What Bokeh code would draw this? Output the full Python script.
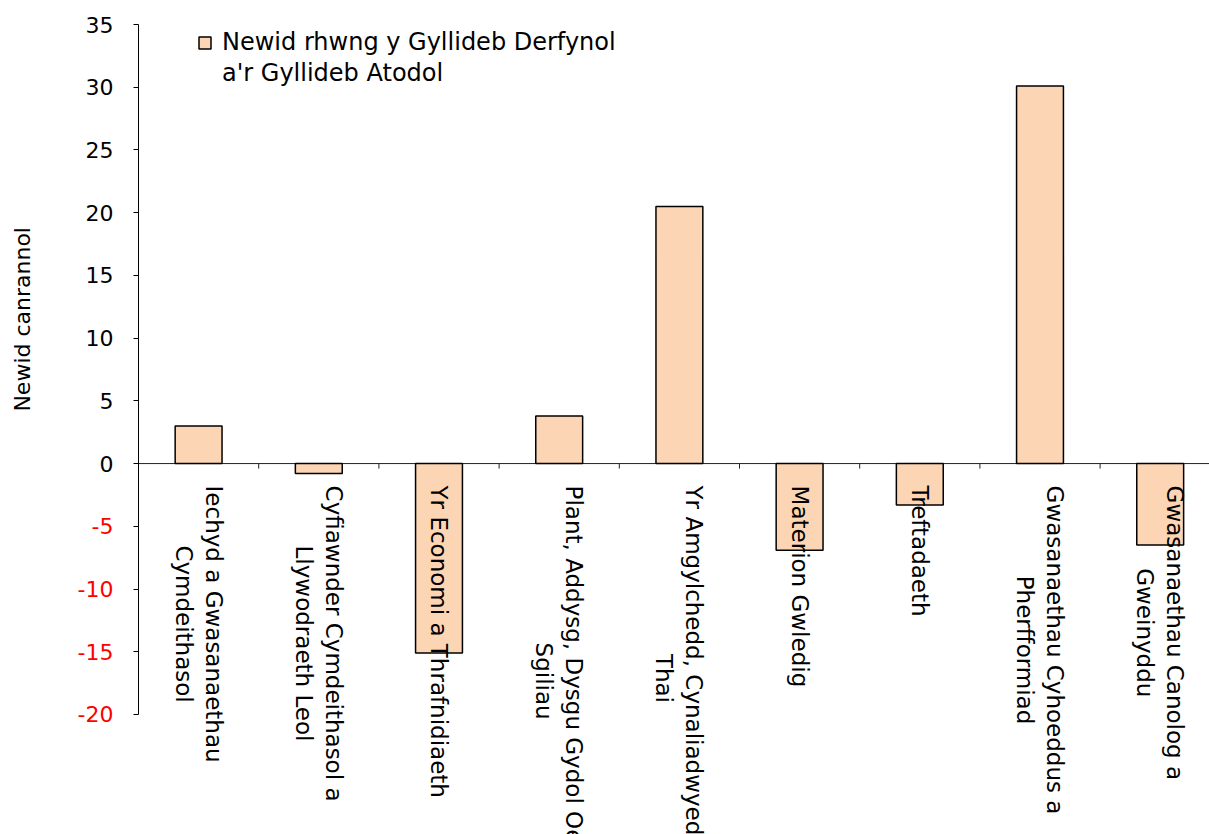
import math
from bokeh.plotting import figure
from bokeh.models import (ColumnDataSource, Range1d, FixedTicker, Legend, LegendItem)
from bokeh.core.properties import value
from bokeh.embed import file_html
from bokeh.resources import INLINE

# ---- data ----
categories = [
    "Iechyd a Gwasanaethau\nCymdeithasol",
    "Cyfiawnder Cymdeithasol a\nLlywodraeth Leol",
    "Yr Economi a Thrafnidiaeth",
    "Plant, Addysg, Dysgu Gydol Oes a\nSgiliau",
    "Yr Amgylchedd, Cynaliadwyedd a\nThai",
    "Materion Gwledig",
    "Treftadaeth",
    "Gwasanaethau Cyhoeddus a\nPherfformiad",
    "Gwasanaethau Canolog a\nGweinyddu",
]
values = [3.0, -0.8, -15.1, 3.8, 20.5, -6.9, -3.3, 30.1, -6.5]
series_name = "Newid rhwng y Gyllideb Derfynol\na'r Gyllideb Atodol"
y_ticks = [-20, -15, -10, -5, 0, 5, 10, 15, 20, 25, 30, 35]
y_label = "Newid canrannol"

FONT = "DejaVu Sans"
BAR_FILL = "#FCD5B4"
TICK_FS = "22px"

n = len(categories)
xs = [i + 0.5 for i in range(n)]
src = ColumnDataSource(dict(x=xs, top=values, label=categories, zero=[0] * n))

# layout: canvas == page (bokeh template has no body margin)
W, H = 1209, 834
AX_X = 138          # pixel position of the y axis
Y_TOP_PX = 24       # pixel of the top tick
PX_PER_CAT = 120.2
PX_PER_UNIT = 12.545
ymax = max(y_ticks)

p = figure(width=W, height=H, output_backend="svg", toolbar_location=None,
           x_range=Range1d(-AX_X / PX_PER_CAT, (W - AX_X) / PX_PER_CAT),
           y_range=Range1d(ymax - (H - Y_TOP_PX) / PX_PER_UNIT, ymax + Y_TOP_PX / PX_PER_UNIT),
           min_border=0, min_border_left=0, min_border_top=0,
           min_border_right=0, min_border_bottom=0)
p.title.visible = False
p.outline_line_color = None
p.grid.visible = False
p.xaxis.visible = False
p.background_fill_color = "white"

# y axis, drawn at x = 0 inside the frame
yax = p.yaxis[0]
yax.fixed_location = 0
yax.ticker = FixedTicker(ticks=y_ticks)
yax.bounds = (min(y_ticks), max(y_ticks))
yax.minor_tick_line_color = None
yax.major_tick_in = 0
yax.major_tick_out = 5
yax.axis_line_color = "black"
yax.major_tick_line_color = "black"
yax.major_label_standoff = 20
yax.major_label_text_font = FONT
yax.major_label_text_font_size = TICK_FS
yax.major_label_text_color = "black"
yax.major_label_overrides = {t: "" for t in y_ticks if t < 0}

# red negative tick labels
neg = [t for t in y_ticks if t < 0]
neg_src = ColumnDataSource(dict(y=neg, x=[0] * len(neg), t=[str(t) for t in neg]))
p.text(x="x", y="y", text="t", source=neg_src, x_offset=-25,
       text_align="right", text_baseline="middle",
       text_font=value(FONT), text_font_size=value(TICK_FS), text_color="#FF0000")

# y axis title
ttl_src = ColumnDataSource(dict(x=[0], y=[11.5], t=[y_label]))
p.text(x="x", y="y", text="t", source=ttl_src, x_offset=-116, angle=math.pi / 2,
       text_align="center", text_baseline="middle",
       text_font=value(FONT), text_font_size=value("22px"), text_color="black")

# zero line and category boundary ticks
p.segment(x0=[0], x1=[n], y0=[0], y1=[0], line_color="#222222", line_width=1)
bounds = list(range(1, n))
p.segment(x0=bounds, x1=bounds, y0=[0] * len(bounds), y1=[-0.4] * len(bounds),
          line_color="#222222", line_width=1)

bars = p.vbar(x="x", top="top", bottom="zero", width=0.39, source=src,
              fill_color=BAR_FILL, line_color="black", line_width=1.5)

# category labels
p.text(x="x", y="zero", text="label", source=src, angle=-math.pi / 2,
       anchor=value("center_left"), y_offset=22, text_align="center",
       text_font=value(FONT), text_font_size=value("23px"), text_color="black",
       text_line_height=1.15)

# legend: swatch aligned with the first line of the series name
name_lines = series_name.split("\n")
ghost = p.vbar(x=[], top=[], width=0.39, fill_alpha=0, line_alpha=0)
legend = Legend(items=[LegendItem(label=name_lines[0], renderers=[bars]),
                       LegendItem(label=name_lines[1], renderers=[ghost])],
                location=(197, 747))
legend.border_line_color = None
legend.background_fill_alpha = 0
legend.padding = 0
legend.margin = 0
legend.spacing = 3
legend.glyph_width = 15
legend.glyph_height = 15
legend.label_standoff = 10
legend.label_text_font = FONT
legend.label_text_font_size = "24px"
legend.label_text_color = "black"
p.add_layout(legend)

open("out.html", "w").write(file_html(p, INLINE))
